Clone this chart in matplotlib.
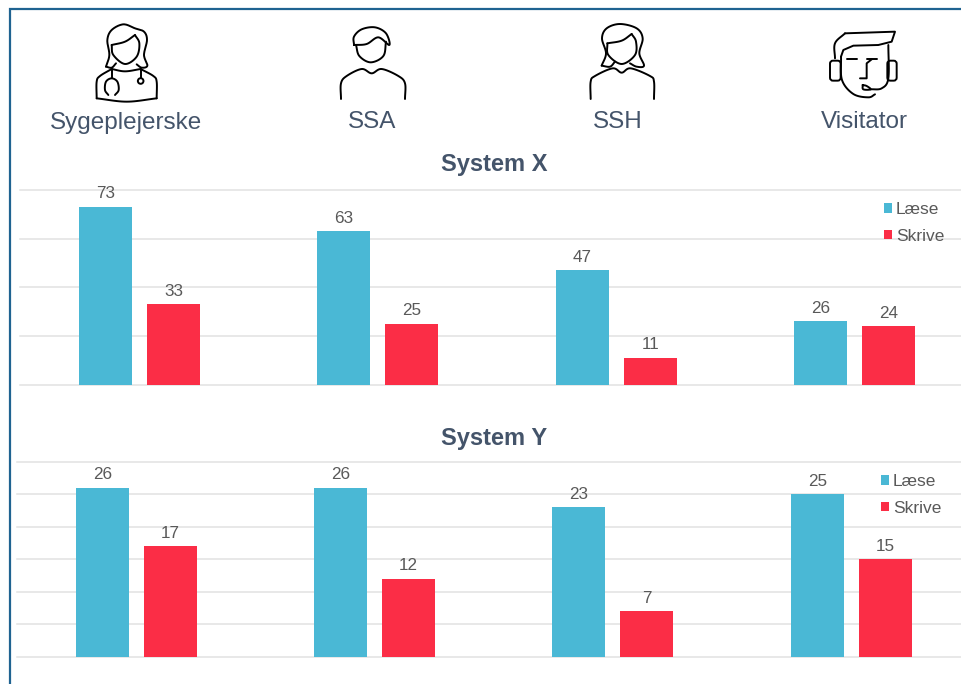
import numpy as np
import matplotlib
matplotlib.use('Agg')
import matplotlib.pyplot as plt
from matplotlib.patches import Circle, FancyBboxPatch

plt.rcParams['font.family'] = ['Liberation Sans', 'DejaVu Sans']

roles = ['Sygeplejerske', 'SSA', 'SSH', 'Visitator']
x_laese = [73, 63, 47, 26]
x_skrive = [33, 25, 11, 24]
y_laese = [26, 26, 23, 25]
y_skrive = [17, 12, 7, 15]

BLUE = '#4AB8D5'
RED = '#FB2D46'
GRID = '#E2E2E2'
GREY = '#595959'
HEAD = '#44546A'
W, H = 961, 684

fig = plt.figure(figsize=(W / 100, H / 100), dpi=100)


def chart(left, top, bottom, xmin, xmax, ymax, step, laese, skrive, leg_anchor):
    ax = fig.add_axes([left / W, 1 - bottom / H, (W - left) / W, (bottom - top) / H])
    pos = np.arange(len(roles))
    b1 = ax.bar(pos - 0.1427, laese, 0.2224, color=BLUE, label='Læse', zorder=3)
    b2 = ax.bar(pos + 0.1427, skrive, 0.2224, color=RED, label='Skrive', zorder=3)
    for bars in (b1, b2):
        ax.bar_label(bars, padding=4, fontsize=12.3, color=GREY)
    ax.set_xlim(xmin, xmax)
    ax.set_ylim(0, ymax)
    ax.set_yticks(np.arange(0, ymax + 1, step))
    ax.set_xticks([])
    ax.tick_params(length=0, labelleft=False)
    ax.grid(axis='y', color=GRID, linewidth=1.1, clip_on=False)
    ax.set_axisbelow(True)
    for s in ax.spines.values():
        s.set_visible(False)
    ax.patch.set_alpha(0)
    ax.legend(loc='upper left', bbox_to_anchor=leg_anchor, frameon=False, fontsize=12.5,
              handlelength=0.46, handleheight=0.46, handletextpad=0.22,
              labelspacing=0.68, borderpad=0, borderaxespad=0, labelcolor=GREY)
    return ax


chart(20, 190, 384.5, -0.5014, 3.447, 80, 20, x_laese, x_skrive,
      ((884 - 20) / (W - 20), 1 - (202 - 190) / 194.5))
chart(17, 462, 656.5, -0.5006, 3.461, 30, 5, y_laese, y_skrive,
      ((881 - 17) / (W - 17), 1 - (474 - 462) / 194.5))

# overlay in pixel coordinates for frame, icons and headings
ov = fig.add_axes([0, 0, 1, 1])
ov.set_xlim(0, W)
ov.set_ylim(H, 0)
ov.axis('off')
ov.patch.set_alpha(0)

ov.plot([10, 10, W], [H, 9, 9], color='#1F6391', linewidth=1.6, solid_joinstyle='miter')

for name, cx in zip(roles, [126, 372, 618, 864]):
    ov.text(cx, 122.5, name, ha='center', va='center', fontsize=17.5, color=HEAD)
ov.text(494, 165, 'System X', ha='center', va='center', fontsize=17, fontweight='bold', color=HEAD)
ov.text(494, 438, 'System Y', ha='center', va='center', fontsize=17, fontweight='bold', color=HEAD)


def smooth(pts, n=12):
    # catmull-rom through the given points, only used for the icon outlines
    p = np.array(pts, float)
    p = np.vstack([2 * p[0] - p[1], p, 2 * p[-1] - p[-2]])
    out = []
    for i in range(1, len(p) - 2):
        for t in np.linspace(0, 1, n, endpoint=False):
            out.append(0.5 * (2 * p[i] + (p[i + 1] - p[i - 1]) * t
                              + (2 * p[i - 1] - 5 * p[i] + 4 * p[i + 1] - p[i + 2]) * t ** 2
                              + (3 * p[i] - p[i - 1] - 3 * p[i + 1] + p[i + 2]) * t ** 3))
    out.append(p[-2])
    return np.array(out)


def icon(strokes, ox=0, straight=False):
    for st in strokes:
        q = np.array(st, float) if straight else smooth(st)
        ov.plot(ox + q[:, 0] / 3, q[:, 1] / 3, color='black', linewidth=1.4,
                solid_capstyle='round', solid_joinstyle='round')


icon([
    [(318, 200), (328, 165), (322, 120), (335, 90), (370, 73), (405, 85), (432, 95), (441, 120), (432, 165), (442, 197), (425, 203), (410, 193)],
    [(318, 200), (335, 203), (348, 190)],
    [(335, 135), (340, 165), (375, 192), (410, 170), (418, 130), (405, 105)],
    [(335, 135), (375, 125), (405, 105)],
    [(290, 295), (290, 245), (300, 228), (335, 207)],
    [(335, 207), (375, 214), (422, 207)],
    [(422, 207), (460, 228), (470, 245), (470, 295)],
    [(290, 295), (380, 305), (470, 295)],
    [(335, 207), (335, 235)],
    [(325, 285), (315, 270), (318, 245), (335, 235), (352, 245), (356, 270), (345, 285)],
    [(422, 207), (422, 235)],
])
ov.add_patch(Circle((422 / 3, 243 / 3), 2.8, fill=False, ec='black', lw=1.4))

icon([
    [(1062, 135), (1062, 110), (1085, 88), (1125, 82), (1158, 100), (1168, 135), (1135, 112), (1100, 132), (1062, 135)],
    [(1068, 135), (1078, 168), (1112, 187), (1150, 168), (1158, 125)],
    [(1023, 297), (1023, 250), (1040, 228), (1085, 207), (1115, 220), (1145, 207), (1195, 228), (1215, 250), (1215, 297)],
])

icon([
    [(365, 197), (378, 160), (366, 115), (380, 85), (420, 72), (470, 85), (488, 115), (478, 160), (492, 197), (470, 200), (450, 190)],
    [(365, 197), (390, 200), (405, 185)],
    [(382, 130), (385, 165), (425, 192), (465, 165), (468, 125), (455, 102)],
    [(382, 130), (425, 122), (455, 102)],
    [(332, 297), (332, 245), (345, 228), (398, 205), (425, 218), (452, 205), (510, 228), (522, 245), (522, 297)],
], ox=480)

icon([
    [(1083, 170), (1086, 240), (1120, 282), (1165, 292), (1185, 283)],
    [(1065, 175), (1065, 130), (1095, 100)],
    [(1225, 135), (1225, 235), (1205, 265), (1172, 268)],
    [(1148, 255), (1150, 268), (1172, 268), (1160, 258), (1148, 255)],
], ox=480)
icon([
    [(1095, 100), (1245, 95), (1235, 125), (1195, 135), (1120, 137), (1090, 150), (1083, 170)],
    [(1100, 178), (1132, 178)],
    [(1160, 178), (1192, 178)],
    [(1175, 178), (1160, 190), (1160, 235), (1140, 235)],
], ox=480, straight=True)
for x0, x1 in [(1050, 1082), (1222, 1250)]:
    ov.add_patch(FancyBboxPatch((480 + x0 / 3 + 2, 182 / 3 + 2), (x1 - x0) / 3 - 4, 60 / 3 - 4,
                                boxstyle='round,pad=2,rounding_size=3', fill=False, ec='black', lw=1.4))

fig.savefig('out.png', dpi=100)
